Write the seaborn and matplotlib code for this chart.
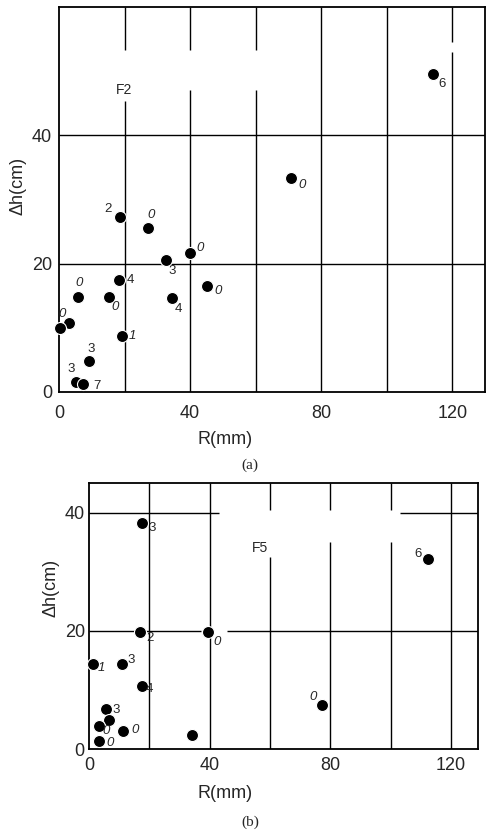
import matplotlib
matplotlib.use("Agg")
import matplotlib.pyplot as plt
import numpy as np
import pandas as pd
import seaborn as sns

# ---- data: panel (a) F2 ----
a_R = [18.6, 27.1, 40.0, 32.6, 18.3, 45.2, 5.7, 15.2, 34.4, 3.1, 0.3, 19.3, 9.2, 5.2, 7.3, 70.7, 114.0]
a_dh = [27.3, 25.6, 21.6, 20.5, 17.4, 16.5, 14.8, 14.8, 14.6, 10.7, 10.0, 8.7, 4.8, 1.6, 1.2, 33.3, 49.5]
a_lab = ["2", "0", "0", "3", "4", "0", "0", "0", "4", "", "0", "1", "3", "3", "7", "0", "6"]

# ---- data: panel (b) F5 ----
b_R = [17.5, 16.8, 39.6, 1.3, 10.9, 17.5, 5.6, 6.6, 3.3, 11.2, 3.3, 34.3, 77.2, 112.5]
b_dh = [38.3, 19.8, 19.8, 14.4, 14.4, 10.7, 6.8, 4.9, 3.9, 3.0, 1.4, 2.4, 7.5, 32.2]
b_lab = ["3", "2", "0", "1", "3", "4", "3", "", "0", "0", "0", "", "0", "6"]

x_ticks = [0, 40, 80, 120]
a_yticks = [0, 20, 40]
b_yticks = [0, 20, 40]
panel_names = ["F2", "F5"]
captions = ["(a)", "(b)"]

# label offsets (pixels) - styling only
a_off = [(-12, 8), (3, 13), (10, 5), (6, -11), (11, 0), (11, -5), (1, 14), (6, -10), (7, -11),
         (0, 0), (2, 14), (10, 0), (2, 12), (-5, 13), (14, -2), (11, -7), (9, -10)]
b_off = [(10, -5), (10, -6), (9, -10), (8, -4), (9, 4), (8, -3), (10, -1), (0, 0), (7, -5),
         (12, 1), (11, -2), (0, 0), (-9, 8), (-10, 5)]

sns.set_style("white")
plt.rcParams['font.family'] = ['Liberation Sans', 'DejaVu Sans']

W, H = 487, 833
fig = plt.figure(figsize=(W / 100, H / 100), dpi=100)

def fbox(l, t, r, b):
    return [l / W, 1 - b / H, (r - l) / W, (b - t) / H]

ax_a = fig.add_axes(fbox(59, 7, 485, 392))
ax_b = fig.add_axes(fbox(89, 483, 478, 749))

def grid(ax, vsegs, hsegs):
    for x, segs in vsegs.items():
        for y0, y1 in segs:
            ax.plot([x, x], [y0, y1], color="black", lw=1.0, zorder=1, solid_capstyle="butt")
    for y, segs in hsegs.items():
        for x0, x1 in segs:
            ax.plot([x0, x1], [y, y], color="black", lw=1.0, zorder=1, solid_capstyle="butt")

grid(ax_a,
     {20: [(0, 45.3), (53.3, 60)], 40: [(0, 47.1), (53.3, 60)], 60: [(0, 47.1), (53.3, 60)],
      80: [(0, 60)], 100: [(0, 60)], 120: [(0, 53), (54.5, 60)]},
     {20: [(0, 130)], 40: [(0, 130)]})
grid(ax_b,
     {20: [(0, 45)], 40: [(0, 45)], 60: [(0, 32.5), (40.5, 45)],
      80: [(0, 35.1), (40.5, 45)], 100: [(0, 35.1), (40.5, 45)], 120: [(0, 45)]},
     {20: [(0, 37), (45.6, 129)], 40: [(0, 43), (103, 129)]})

def panel(ax, R, dh, lab, off, xmax, ymax, yticks, name, name_xy, xpad, ypad):
    df = pd.DataFrame({"R": R, "dh": dh})
    sns.scatterplot(data=df, x="R", y="dh", ax=ax, s=75, color="black",
                    edgecolor="white", linewidth=0.8, zorder=3, legend=False)
    for c in ax.collections:
        c.set_clip_on(False)
    for x, y, t, (dx, dy) in zip(R, dh, lab, off):
        if t:
            ax.annotate(t, (x, y), xytext=(dx, dy), textcoords="offset pixels",
                        ha="center", va="center", fontsize=9.5,
                        fontstyle="italic" if t in ("0", "1") else "normal", zorder=4)
    ax.text(name_xy[0], name_xy[1], name, ha="center", va="center", fontsize=10)
    ax.set_xlim(0, xmax)
    ax.set_ylim(0, ymax)
    ax.set_xticks(x_ticks)
    ax.set_yticks(yticks)
    ax.tick_params(axis="x", length=0, labelsize=13, pad=xpad)
    ax.tick_params(axis="y", length=0, labelsize=13, pad=ypad)
    for s in ax.spines.values():
        s.set_color("black")
        s.set_linewidth(1.3)
    ax.set_xlabel("R(mm)", fontsize=13)
    ax.set_ylabel("Δh(cm)", fontsize=13)

panel(ax_a, a_R, a_dh, a_lab, a_off, 130, 60, a_yticks, panel_names[0], (19.8, 47.0), 9, 5)
panel(ax_b, b_R, b_dh, b_lab, b_off, 129, 45, b_yticks, panel_names[1], (56.7, 34.0), 6, 3)

ax_a.xaxis.set_label_coords(0.39, -0.10)
ax_a.yaxis.set_label_coords(-0.077, 0.535)
ax_b.xaxis.set_label_coords(0.35, -0.135)
ax_b.yaxis.set_label_coords(-0.075, 0.605)

fig.text(250 / W, 1 - 465 / H, captions[0], ha="center", va="center", fontsize=11,
         family=["Liberation Serif", "DejaVu Serif"])
fig.text(250 / W, 1 - 822 / H, captions[1], ha="center", va="center", fontsize=11,
         family=["Liberation Serif", "DejaVu Serif"])

fig.savefig("out.png", dpi=100)
